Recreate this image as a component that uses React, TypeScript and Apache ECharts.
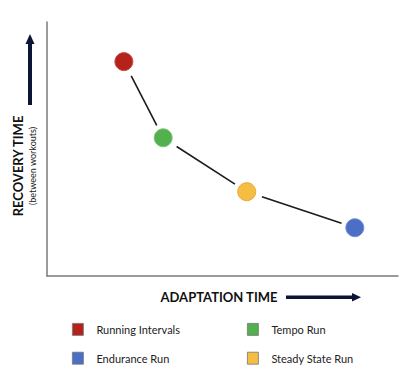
import React, { useEffect, useRef } from "react";
import * as echarts from "echarts";

const names = ["Running Intervals", "Tempo Run", "Steady State Run", "Endurance Run"];
const adaptation = [21.9, 33.1, 56.9, 87.7];
const recovery = [84.4, 54.4, 33.2, 19.0];
const colors = ["#B5221B", "#52B04F", "#F5BE43", "#4A6FC4"];
const borders = ["#C9504A", "#7CC47A", "#E9A83C", "#7390D2"];
const leftLegend = ["Running Intervals", "Endurance Run"];
const rightLegend = ["Tempo Run", "Steady State Run"];

export default function App() {
  const ref = useRef<HTMLDivElement>(null);
  useEffect(() => {
    if (!ref.current) return;
    const chart = echarts.init(ref.current, null, { renderer: "svg" });
    const segments = adaptation.slice(0, -1).map((x, i) => [x, recovery[i], adaptation[i + 1], recovery[i + 1]]);
    const GAP_START = 16;
    const GAP_END = 14;
    const font = "Lato, 'Open Sans', sans-serif";
    const navy = "#0B1535";
    const legendBase = {
      orient: "vertical", top: 323, itemWidth: 11, itemHeight: 12, itemGap: 16, padding: 0,
      icon: "rect", textStyle: { fontFamily: font, fontSize: 11, color: "#222", padding: [0, 0, 0, 8] },
      itemStyle: { borderColor: "#777", borderWidth: 0.8 },
    };
    chart.setOption({
      animation: false,
      backgroundColor: "#ffffff",
      grid: { left: 47, right: 20, top: 22, bottom: 101 },
      xAxis: {
        type: "value", min: 0, max: 100,
        axisLine: { show: true, lineStyle: { color: "#7a7a7a", width: 1.5 } },
        axisTick: { show: false }, axisLabel: { show: false }, splitLine: { show: false },
      },
      yAxis: {
        type: "value", min: 0, max: 100,
        axisLine: { show: true, lineStyle: { color: "#7a7a7a", width: 1.5 } },
        axisTick: { show: false }, axisLabel: { show: false }, splitLine: { show: false },
      },
      legend: [
        { ...legendBase, data: leftLegend, left: 72 },
        { ...legendBase, data: rightLegend, left: 247 },
      ],
      series: [
        {
          type: "custom",
          name: "link",
          silent: true,
          encode: { x: [0, 2], y: [1, 3] },
          data: segments,
          z: 1,
          renderItem: (params: any, api: any) => {
            const a = api.coord([api.value(0), api.value(1)]);
            const b = api.coord([api.value(2), api.value(3)]);
            const dx = b[0] - a[0];
            const dy = b[1] - a[1];
            const len = Math.sqrt(dx * dx + dy * dy);
            const ux = dx / len, uy = dy / len;
            return {
              type: "line",
              shape: {
                x1: a[0] + ux * GAP_START, y1: a[1] + uy * GAP_START,
                x2: b[0] - ux * GAP_END, y2: b[1] - uy * GAP_END,
              },
              style: { stroke: "#1c1c1c", lineWidth: 1.6 },
            };
          },
        },
        ...names.map((n, i) => ({
          type: "scatter",
          name: n,
          z: 3,
          symbol: "circle",
          symbolSize: 18,
          data: [[adaptation[i], recovery[i]]],
          itemStyle: { color: colors[i], borderColor: borders[i], borderWidth: 1, opacity: 1 },
        })),
      ],
      graphic: [
        {
          type: "text", x: 18, y: 166, rotation: Math.PI / 2,
          style: { text: "RECOVERY TIME", fontFamily: font, fontWeight: "bold", fontSize: 13, fill: "#111", align: "center", verticalAlign: "middle" },
        },
        {
          type: "text", x: 32, y: 166, rotation: Math.PI / 2,
          style: { text: "(between workouts)", fontFamily: font, fontSize: 9, fill: "#222", align: "center", verticalAlign: "middle" },
        },
        { type: "rect", shape: { x: 28, y: 43, width: 4, height: 62 }, style: { fill: navy } },
        { type: "polygon", shape: { points: [[30, 34], [25.5, 44], [34.5, 44]] }, style: { fill: navy } },
        {
          type: "text", x: 219, y: 297,
          style: { text: "ADAPTATION TIME", fontFamily: font, fontWeight: "bold", fontSize: 13, fill: "#111", align: "center", verticalAlign: "middle" },
        },
        { type: "rect", shape: { x: 286, y: 295.5, width: 67, height: 3.5 }, style: { fill: navy } },
        { type: "polygon", shape: { points: [[361, 297.2], [352, 293], [352, 301.5]] }, style: { fill: navy } },
      ],
    });
    return () => chart.dispose();
  }, []);
  return <div ref={ref} style={{ width: 418, height: 377, position: "absolute", left: 0, top: 0 }} />;
}
